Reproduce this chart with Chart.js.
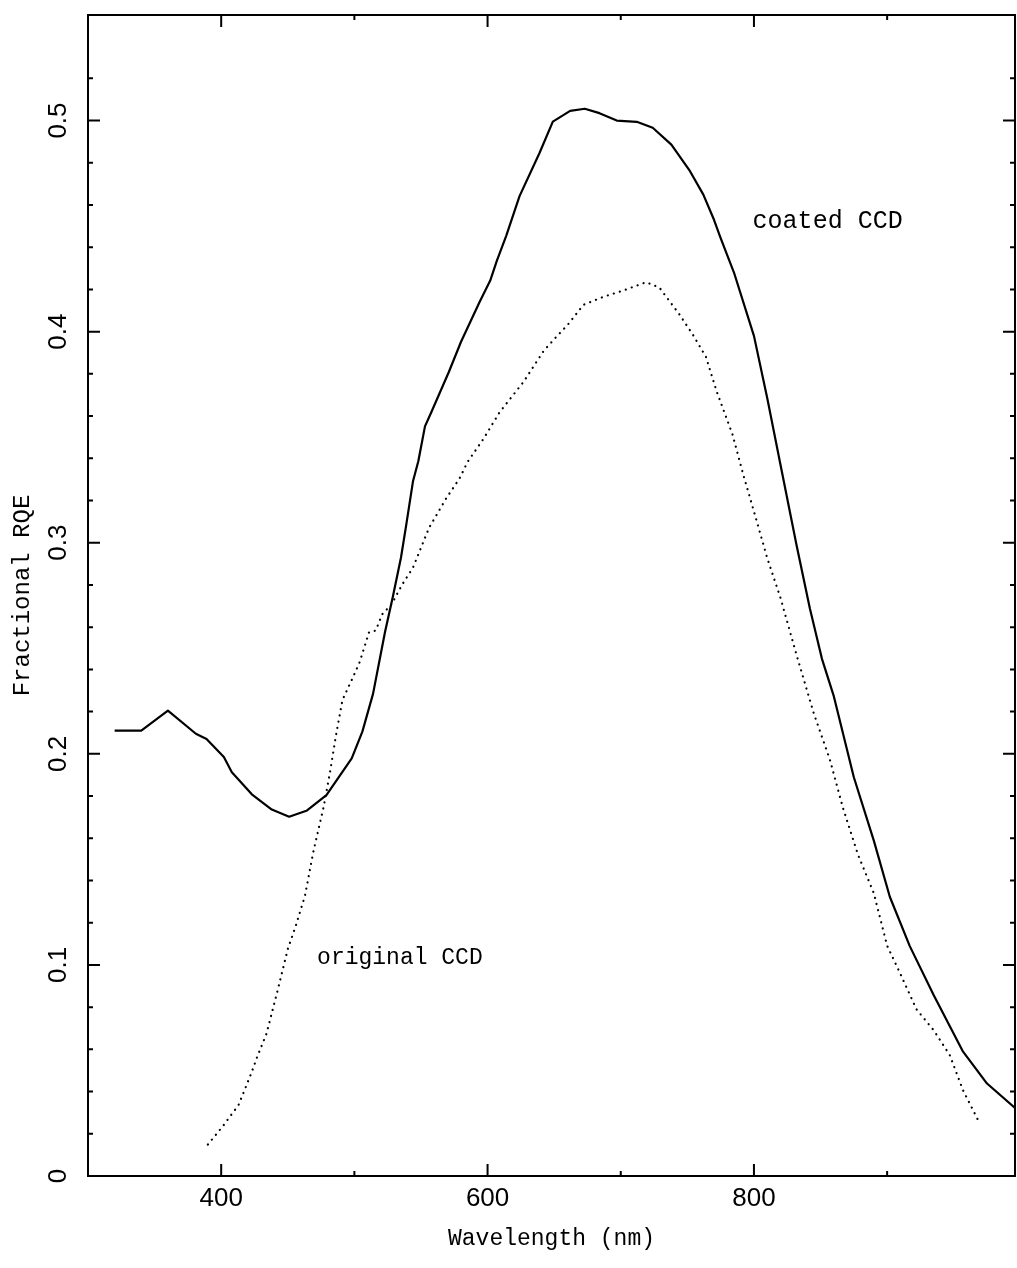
<!DOCTYPE html>
<html>
<head>
<meta charset="utf-8">
<title>Fractional RQE</title>
<script src="https://cdn.jsdelivr.net/npm/chart.js@4.4.1/dist/chart.umd.min.js"></script>
<style>
  html, body { margin: 0; padding: 0; background: #fff; }
  canvas { display: block; }
</style>
</head>
<body>
<canvas id="rqe" width="1017" height="1268"></canvas>
<script>
// values: wavelength in nm, fractional RQE
const coatedNm = [320, 340, 360, 381, 389, 402, 408, 423, 438, 451,
  464, 479, 498, 506, 514, 523, 529, 535, 539, 544,
  548, 553, 558, 571, 580, 594, 602, 607, 614, 624,
  639, 649, 662, 673, 684, 697, 712, 724, 738, 752,
  762, 770, 775, 785, 800, 810, 820, 832, 842, 851,
  860, 875, 890, 902, 917, 935, 957, 975, 996];
const coatedQE = [0.211, 0.211, 0.2205, 0.2095, 0.207, 0.1985, 0.1913, 0.1808, 0.1736, 0.1702,
  0.173, 0.1804, 0.1978, 0.2105, 0.2284, 0.2577, 0.2748, 0.293, 0.3087, 0.3291,
  0.3386, 0.3551, 0.3622, 0.381, 0.3951, 0.414, 0.4242, 0.4336, 0.4454, 0.4642,
  0.4846, 0.4995, 0.5046, 0.5056, 0.5035, 0.5, 0.4994, 0.4966, 0.4886, 0.476,
  0.4649, 0.453, 0.4443, 0.428, 0.398, 0.3684, 0.3367, 0.2988, 0.2688, 0.2451,
  0.2272, 0.1889, 0.1589, 0.1323, 0.1089, 0.0856, 0.0589, 0.0438, 0.0322];

const originalNm = [390, 401, 413, 423, 427, 434, 442, 450, 456, 463,
  469, 471, 477, 482, 486, 491, 499, 504, 511, 516,
  521, 528, 536, 544, 556, 569, 579, 585, 597, 609,
  627, 642, 652, 660, 672, 687, 702, 719, 729, 744,
  754, 764, 772, 784, 792, 800, 810, 820, 832, 845,
  857, 867, 878, 890, 900, 910, 922, 935, 947, 957, 969];
const originalQE = [0.0149, 0.0234, 0.0336, 0.0493, 0.0564, 0.0674, 0.087, 0.1075, 0.1185, 0.133,
  0.1531, 0.1586, 0.1751, 0.1924, 0.2081, 0.2254, 0.2364, 0.2435, 0.2576, 0.2584,
  0.2662, 0.2709, 0.2803, 0.2882, 0.307, 0.3211, 0.3305, 0.3383, 0.3493, 0.3618,
  0.3762, 0.3908, 0.3978, 0.4031, 0.4127, 0.4165, 0.4195, 0.4234, 0.4209, 0.4082,
  0.3987, 0.388, 0.3717, 0.3511, 0.3322, 0.3148, 0.2927, 0.2737, 0.2468, 0.219,
  0.1973, 0.174, 0.1524, 0.134, 0.1091, 0.0957, 0.079, 0.069, 0.0573, 0.0406, 0.0256];

// tick marks along the wavelength axis; only some carry a label
const xTickNm = [400, 500, 600, 700, 800, 900];
const xLabelNm = [400, 600, 800];

const curveNames = ["coated CCD", "original CCD"];
const curveNameNm = [799, 472];
const curveNameQE = [0.452, 0.1034];
const curveNameSize = [25, 23];

function toPoints(xs, ys) {
  return xs.map((x, i) => ({ x, y: ys[i] }));
}

function onStep(v, step) {
  return Math.abs(v / step - Math.round(v / step)) < 1e-6;
}

// frame + inward ticks on all four sides, and the curve names
const frameAndTicks = {
  id: "frameAndTicks",
  afterDatasetsDraw(chart) {
    const { ctx, chartArea: a, scales } = chart;
    const xs = scales.x;
    const ys = scales.y;
    ctx.save();
    ctx.strokeStyle = "#000";
    ctx.lineWidth = 2;
    ctx.strokeRect(a.left, a.top, a.right - a.left, a.bottom - a.top);

    ctx.beginPath();
    xs.ticks.forEach((t) => {
      const px = xs.getPixelForValue(t.value);
      const len = xLabelNm.includes(t.value) ? 12 : 5;
      ctx.moveTo(px, a.bottom);
      ctx.lineTo(px, a.bottom - len);
      ctx.moveTo(px, a.top);
      ctx.lineTo(px, a.top + len);
    });
    ys.ticks.forEach((t) => {
      if (!onStep(t.value, 0.02)) return;
      const py = ys.getPixelForValue(t.value);
      const len = onStep(t.value, 0.1) ? 12 : 5;
      ctx.moveTo(a.left, py);
      ctx.lineTo(a.left + len, py);
      ctx.moveTo(a.right, py);
      ctx.lineTo(a.right - len, py);
    });
    ctx.stroke();

    ctx.fillStyle = "#000";
    ctx.textAlign = "left";
    ctx.textBaseline = "middle";
    curveNames.forEach((name, i) => {
      ctx.font = curveNameSize[i] + "px 'Liberation Mono', monospace";
      ctx.fillText(name, xs.getPixelForValue(curveNameNm[i]), ys.getPixelForValue(curveNameQE[i]));
    });
    ctx.restore();
  },
};

new Chart(document.getElementById("rqe"), {
  type: "line",
  data: {
    datasets: [
      {
        label: "coated CCD",
        data: toPoints(coatedNm, coatedQE),
        borderColor: "#000",
        borderWidth: 2.2,
        pointRadius: 0,
        tension: 0,
        borderJoinStyle: "round",
      },
      {
        label: "original CCD",
        data: toPoints(originalNm, originalQE),
        borderColor: "#000",
        borderWidth: 2.2,
        borderDash: [0.1, 6.2],
        borderCapStyle: "round",
        pointRadius: 0,
        tension: 0,
      },
    ],
  },
  options: {
    responsive: false,
    animation: false,
    devicePixelRatio: 1,
    layout: { padding: { top: 15, right: 2, left: 0, bottom: 0 } },
    plugins: {
      legend: { display: false },
      tooltip: { enabled: false },
    },
    scales: {
      x: {
        type: "linear",
        min: 300,
        max: 996,
        grid: { display: false, drawTicks: false },
        border: { display: false },
        afterBuildTicks: (scale) => {
          scale.ticks = xTickNm.map((v) => ({ value: v }));
        },
        ticks: {
          autoSkip: false,
          maxRotation: 0,
          padding: 7,
          color: "#000",
          font: { family: "'Liberation Sans', Arial, sans-serif", size: 26 },
          callback: (v) => (xLabelNm.includes(v) ? String(v) : ""),
        },
        title: {
          display: true,
          text: "Wavelength (nm)",
          color: "#000",
          font: { family: "'Liberation Mono', monospace", size: 23 },
          padding: { top: 0, bottom: 15 },
        },
        afterFit: (scale) => {
          scale.height = 92;
          scale.paddingLeft = 0;
          scale.paddingRight = 0;
        },
      },
      y: {
        type: "linear",
        min: 0,
        max: 0.55,
        grid: { display: false, drawTicks: false },
        border: { display: false },
        ticks: {
          stepSize: 0.02,
          autoSkip: false,
          minRotation: 90,
          maxRotation: 90,
          crossAlign: "center",
          padding: 11,
          color: "#000",
          font: { family: "'Liberation Sans', Arial, sans-serif", size: 26 },
          callback: (v) => {
            if (!onStep(v, 0.1)) return "";
            const k = Math.round(v * 10);
            return k === 0 ? "0" : (k / 10).toFixed(1);
          },
        },
        title: {
          display: true,
          text: "Fractional RQE",
          color: "#000",
          font: { family: "'Liberation Mono', monospace", size: 24 },
          padding: { top: 8, bottom: 0 },
        },
        afterFit: (scale) => {
          scale.width = 88;
          scale.paddingTop = 0;
          scale.paddingBottom = 0;
        },
      },
    },
  },
  plugins: [frameAndTicks],
});
</script>
</body>
</html>
